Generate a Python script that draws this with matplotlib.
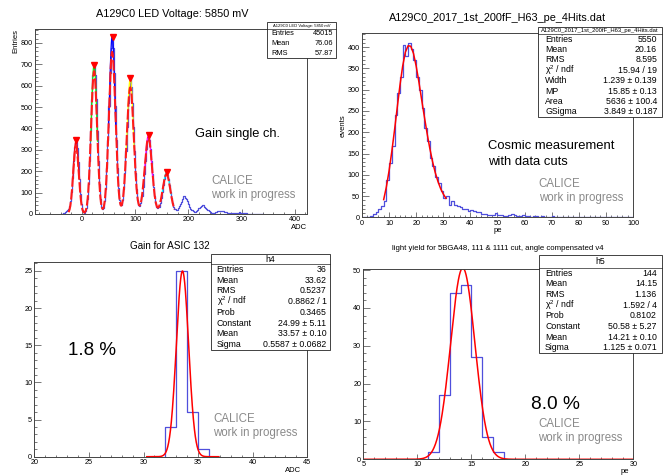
import numpy as np
from matplotlib import pyplot as plt
from matplotlib.patches import Rectangle
from matplotlib.lines import Line2D

plt.rcParams['font.family'] = ['Liberation Sans', 'DejaVu Sans']
plt.rcParams['mathtext.fontset'] = 'custom'
plt.rcParams['mathtext.rm'] = 'Liberation Sans'
plt.rcParams['mathtext.it'] = 'Liberation Sans:italic'

W, H = 665, 476

# ---- top left: LED gain spectrum (bin width 2 ADC, starting at -40)
led_start, led_width = -40, 2
led_counts = [
    1, 2, 3, 5, 8, 12, 17, 24, 38, 62, 105, 170, 248, 312, 335, 309, 243, 163, 93, 45,
    19, 8, 6, 12, 30, 70, 140, 249, 390, 536, 649, 692, 649, 536, 390, 249, 140, 71, 34, 23,
    30, 60, 118, 214, 347, 505, 661, 777, 825, 777, 661, 505, 347, 215, 120, 65, 40, 41, 65, 115,
    191, 293, 408, 517, 596, 630, 596, 517, 408, 293, 192, 116, 66, 42, 39, 52, 82, 128, 185, 248,
    306, 347, 365, 347, 306, 248, 185, 128, 82, 50, 34, 29, 35, 51, 75, 104, 135, 164, 183, 192,
    183, 164, 135, 104, 75, 50, 33, 22, 18, 20, 28, 36, 47, 58, 71, 82, 84, 77, 71, 62,
    47, 33, 25, 17, 13, 10, 11, 15, 19, 26, 30, 33, 39, 40, 42, 35, 28, 24, 18, 13,
    10, 7, 6, 6, 7, 8, 9, 12, 13, 16, 15, 14, 13, 12, 10, 8, 6, 5, 4, 3,
    3, 3, 3, 4, 6, 5, 6, 7, 8, 6, 6, 5, 4, 3, 3, 2, 2, 1, 2, 1,
    1, 1, 1, 0, 1, 0, 0, 0, 0, 0]
peak_x = [-10.8, 23.4, 57.6, 90.6, 126.0, 160.9]
peak_y = [346, 699, 829, 638, 371, 195]
# single peak fits
single_mean = [-11, 23, 57, 91, 125, 159]
single_const = [340, 700, 830, 635, 368, 193]
single_sigma = [5.0, 5.4, 5.6, 6.0, 6.5, 7.0]
single_color = ['#ff0000', '#00ff00', '#0000ff', '#ffff00', '#ff00ff', '#00ffff']
# combined fit
multi_const = [318, 668, 758, 592, 356, 186]
multi_sigma = [5.2, 5.7, 6.2, 6.6, 7.0, 7.3]
multi_range = (-25, 174)

# ---- top right: cosmic light yield (bin width 1 pe)
cos_counts = [
    0, 0, 1, 3, 8, 12, 20, 28, 38, 88, 128, 168, 240, 292, 330, 405, 378, 410, 395, 370,
    330, 300, 258, 210, 180, 140, 120, 95, 80, 62, 45, 50, 30, 38, 30, 26, 24, 20, 19, 15,
    17, 16, 14, 12, 9, 8, 6, 5, 7, 10, 6, 5, 4, 3, 6, 8, 5, 3, 4, 6,
    3, 4, 2, 3, 3, 2, 3, 2, 2, 1, 3, 2, 1, 2, 1, 2, 1, 1, 2, 1,
    1, 0, 1, 1, 2, 1, 0, 1, 1, 0, 1, 0, 1, 0, 1, 0, 0, 0, 0, 0]
cos_fit_x = list(range(8, 32))
cos_fit_y = [42, 72, 110, 155, 205, 258, 310, 355, 388, 403, 402, 385, 355, 318, 277,
             237, 198, 163, 132, 106, 85, 68, 55, 45]

# ---- bottom left: gain for ASIC 132
asic_edges = [32, 33, 34, 35, 36]
asic_counts = [4, 25, 6, 1]
asic_fit = (24.99, 33.57, 0.5587)
asic_fit_range = (30.3, 36.9)

# ---- bottom right: light yield
ly_edges = [11, 12, 13, 14, 15, 16, 17, 18]
ly_counts = [2, 17, 44, 46, 27, 6, 2]
ly_fit = (50.58, 14.21, 1.125)
ly_fit_range = (5, 30)

HBLUE = '#4f4fdc'
GREY = '#8a8a8a'


def gauss(x, c, m, s):
    return c * np.exp(-0.5 * ((x - m) / s) ** 2)


def px_axes(x0, y0, x1, y1):
    return fig.add_axes([x0 / W, 1 - y1 / H, (x1 - x0) / W, (y1 - y0) / H])


def style(ax, xmaj, xmin, ymaj, ymin):
    for s in ax.spines.values():
        s.set_linewidth(0.7)
        s.set_color('#444444')
    ax.set_xticks(xmaj)
    ax.set_xticks(xmin, minor=True)
    ax.set_yticks(ymaj)
    ax.set_yticks(ymin, minor=True)
    ax.tick_params(which='both', direction='in', labelsize=5.2, width=0.5, color='#444444',
                   top=False, right=False, pad=1.5)
    ax.tick_params(axis='x', which='major', length=3.5)
    ax.tick_params(axis='x', which='minor', length=1.8)
    ax.tick_params(axis='y', which='major', length=5)
    ax.tick_params(axis='y', which='minor', length=2.5)


def hist_line(ax, edges, counts, **kw):
    edges = np.asarray(edges, float)
    counts = np.asarray(counts, float)
    xs = np.repeat(edges, 2)[1:-1]
    ys = np.repeat(counts, 2)
    ax.plot(np.concatenate([[edges[0]], xs, [edges[-1]]]),
            np.concatenate([[0], ys, [0]]), **kw)


def stats_box(x0, y0, x1, y1, title, title_fs, line_y, rows, fs, nx=7, vx=5):
    fig.add_artist(Rectangle((x0 / W, 1 - y1 / H), (x1 - x0) / W, (y1 - y0) / H,
                             transform=fig.transFigure, fc='white', ec='#222222', lw=0.6, zorder=20))
    fig.add_artist(Line2D([x0 / W, x1 / W], [1 - line_y / H] * 2, transform=fig.transFigure,
                          color='#222222', lw=0.5, zorder=21))
    fig.text((x0 + x1) / 2 / W, 1 - (y0 + line_y) / 2 / H, title, fontsize=title_fs,
             ha='center', va='center', zorder=22)
    step = (y1 - line_y) / len(rows)
    for i, (name, val) in enumerate(rows):
        yc = 1 - (line_y + (i + 0.5) * step) / H
        fig.text((x0 + nx) / W, yc, name, fontsize=fs, ha='left', va='center', zorder=22)
        fig.text((x1 - vx) / W, yc, val, fontsize=fs, ha='right', va='center', zorder=22)


def calice(ax, x, y, size=8.3, dy=0.075):
    ax.text(x, y, 'CALICE', transform=ax.transAxes, fontsize=size, color=GREY, va='center')
    ax.text(x, y - dy, 'work in progress', transform=ax.transAxes, fontsize=size, color=GREY,
            va='center')


fig = plt.figure(figsize=(W / 100, H / 100), dpi=100)

# ================= top left
ax1 = px_axes(35, 29, 307, 214)
edges = led_start + led_width * np.arange(len(led_counts) + 1)
hist_line(ax1, edges, led_counts, color=HBLUE, lw=0.9)
for m, c, s, col in zip(single_mean, single_const, single_sigma, single_color):
    xx = np.linspace(m - 1.2 * s, m + 1.2 * s, 50)
    ax1.plot(xx, gauss(xx, c, m, s), color=col, lw=0.9)
xx = np.linspace(multi_range[0], multi_range[1], 800)
yy = sum(gauss(xx, c, m, s) for c, m, s in zip(multi_const, single_mean, multi_sigma))
ax1.plot(xx, yy, color='#ff1a1a', lw=1.5, dashes=(5, 1.2))
ax1.plot(peak_x, peak_y, 'v', color='red', ms=4, mec='red')
ax1.set_xlim(-88, 423)
ax1.set_ylim(0, 865)
style(ax1, np.arange(0, 401, 100), np.arange(-80, 421, 20), np.arange(0, 801, 100),
      np.arange(0, 861, 20))
ax1.text(-0.07, 1.0, 'Entries', transform=ax1.transAxes, rotation=90, fontsize=5.5,
         ha='center', va='top')
ax1.text(1.0, -0.075, 'ADC', transform=ax1.transAxes, fontsize=5.5, ha='right', va='center')
ax1.text(0.59, 0.43, 'Gain single ch.', transform=ax1.transAxes, fontsize=9.3, va='center')
calice(ax1, 0.648, 0.178)
fig.text(172 / W, 1 - 14 / H, 'A129C0 LED Voltage: 5850 mV', fontsize=7.8, ha='center',
         va='center')

# ================= top right
ax2 = px_axes(362, 33, 633, 217.5)
hist_line(ax2, np.arange(0, 101), cos_counts, color=HBLUE, lw=0.9)
ax2.plot(cos_fit_x, cos_fit_y, color='red', lw=1.1)
ax2.set_xlim(0, 100)
ax2.set_ylim(0, 433)
style(ax2, np.arange(0, 101, 10), np.arange(0, 101, 2), np.arange(0, 401, 50),
      np.arange(0, 431, 10))
ax2.text(-0.07, 0.5, 'events', transform=ax2.transAxes, rotation=90, fontsize=5.5,
         ha='center', va='center')
ax2.text(0.5, -0.07, 'pe', transform=ax2.transAxes, fontsize=5.5, ha='center', va='center')
ax2.text(0.465, 0.385, 'Cosmic measurement', transform=ax2.transAxes, fontsize=9.4,
         va='center')
ax2.text(0.465, 0.3, 'with data cuts', transform=ax2.transAxes, fontsize=9.4, va='center')
calice(ax2, 0.652, 0.183)
fig.text(498 / W, 1 - 18 / H, 'A129C0_2017_1st_200fF_H63_pe_4Hits.dat', fontsize=7.8,
         ha='center', va='center')

# ================= bottom left
ax3 = px_axes(34.3, 262, 307.3, 456.7)
hist_line(ax3, asic_edges, asic_counts, color=HBLUE, lw=0.9)
xx = np.linspace(asic_fit_range[0], asic_fit_range[1], 400)
ax3.plot(xx, gauss(xx, *asic_fit), color='red', lw=1.1)
ax3.set_xlim(20, 45)
ax3.set_ylim(0, 26.2)
style(ax3, np.arange(20, 46, 5), np.arange(20, 46, 1), np.arange(0, 26, 5), np.arange(0, 27, 1))
ax3.text(0.978, -0.07, 'ADC', transform=ax3.transAxes, fontsize=5.5, ha='right', va='center')
ax3.text(0.125, 0.545, '1.8 %', transform=ax3.transAxes, fontsize=13.5, va='center')
calice(ax3, 0.655, 0.192, dy=0.072)
fig.text(170 / W, 1 - 246 / H, 'Gain for ASIC 132', fontsize=7.1, ha='center', va='center')

# ================= bottom right
ax4 = px_axes(363.3, 269, 633.3, 459.3)
hist_line(ax4, ly_edges, ly_counts, color=HBLUE, lw=0.9)
xx = np.linspace(ly_fit_range[0], ly_fit_range[1], 600)
ax4.plot(xx, gauss(xx, *ly_fit), color='red', lw=1.1)
ax4.set_xlim(5, 30)
ax4.set_ylim(0, 50.3)
style(ax4, np.arange(5, 31, 5), np.arange(5, 31, 1), np.arange(0, 51, 10), np.arange(0, 51, 2))
ax4.text(0.985, -0.065, 'pe', transform=ax4.transAxes, fontsize=5.5, ha='right', va='center')
ax4.text(0.62, 0.29, '8.0 %', transform=ax4.transAxes, fontsize=13.8, va='center')
calice(ax4, 0.648, 0.185, dy=0.072)
fig.text(498 / W, 1 - 249 / H,
         'light yield for 5BGA48, 111 & 1111 cut, angle compensated v4', fontsize=5.6,
         ha='center', va='center')

# ================= stats boxes
stats_box(267, 22, 336, 58, 'A129C0 LED Voltage: 5850 mV', 3.0, 29,
          [('Entries', '45015'), ('Mean', '76.06'), ('RMS', '57.87')], 5.3, nx=4, vx=3)
stats_box(538, 27, 662, 117, 'A129C0_2017_1st_200fF_H63_pe_4Hits.dat', 4.2, 34,
          [('Entries', '5550'), ('Mean', '20.16'), ('RMS', '8.595'),
           ('χ$^2$ / ndf', '15.94 / 19'), ('Width', '1.239 ± 0.139'),
           ('MP', '15.85 ± 0.13'), ('Area', '5636 ± 100.4'),
           ('GSigma', '3.849 ± 0.187')], 6.3)
stats_box(210.7, 254, 330, 350, 'h4', 6.3, 264,
          [('Entries', '36'), ('Mean', '33.62'), ('RMS', '0.5237'),
           ('χ$^2$ / ndf', '0.8862 / 1'), ('Prob', '0.3465'),
           ('Constant', '24.99 ± 5.11'), ('Mean', '33.57 ± 0.10'),
           ('Sigma', '0.5587 ± 0.0682')], 6.3, nx=6, vx=3.5)
stats_box(539, 255, 662, 353, 'h5', 6.3, 267.7,
          [('Entries', '144'), ('Mean', '14.15'), ('RMS', '1.136'),
           ('χ$^2$ / ndf', '1.592 / 4'), ('Prob', '0.8102'),
           ('Constant', '50.58 ± 5.27'), ('Mean', '14.21 ± 0.10'),
           ('Sigma', '1.125 ± 0.071')], 6.3, nx=6, vx=5)

fig.savefig('out.png', dpi=100)
